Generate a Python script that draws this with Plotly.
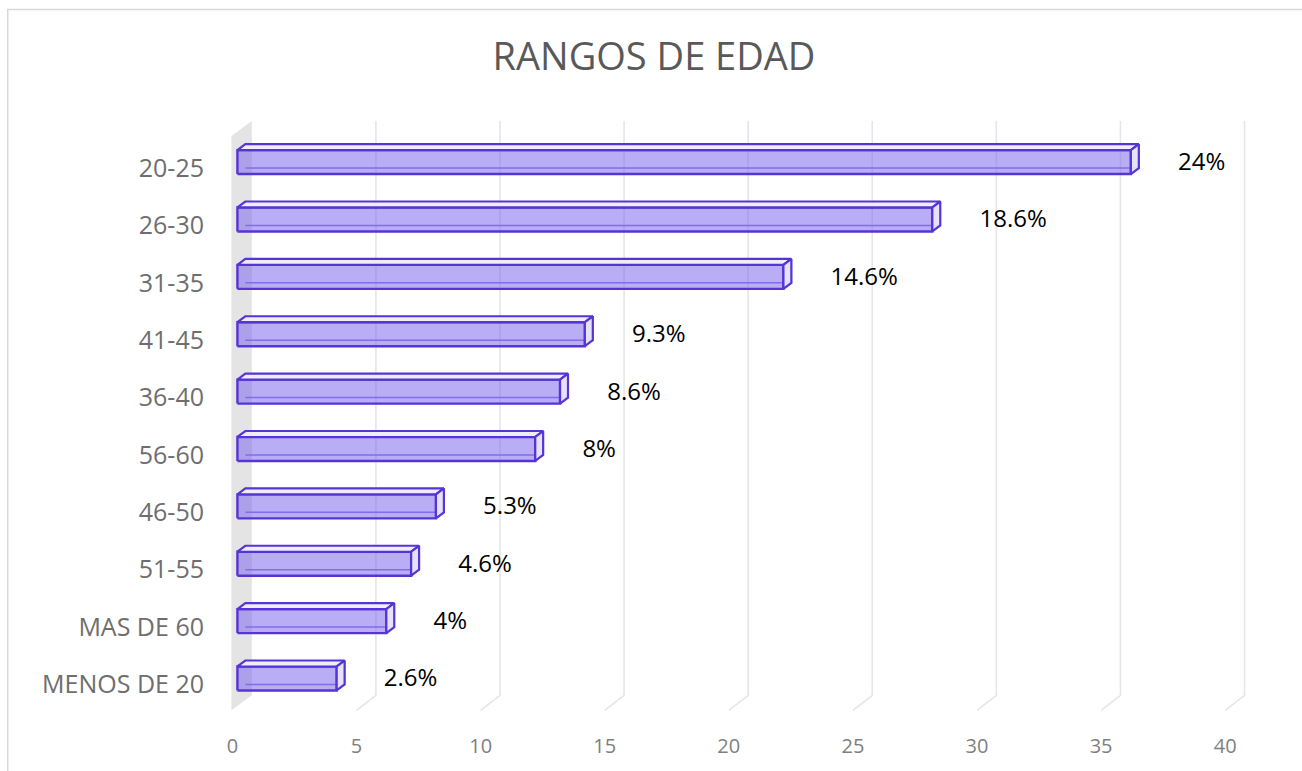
import plotly.graph_objects as go

# ---- data ----
categories = ["20-25", "26-30", "31-35", "41-45", "36-40", "56-60",
              "46-50", "51-55", "MAS DE 60", "MENOS DE 20"]
counts = [36, 28, 22, 14, 13, 12, 8, 7, 6, 4]
labels = ["24%", "18.6%", "14.6%", "9.3%", "8.6%", "8%", "5.3%", "4.6%", "4%", "2.6%"]
x_ticks = [0, 5, 10, 15, 20, 25, 30, 35, 40]

# ---- geometry (data units) ----
W, H = 1302, 771
L_M, R_M, T_M, B_M = 224.5, 51.5, 120.8, 53.2
XR = [-0.3, 41.0]
YR = [-0.55, 9.82]
X0 = 0.2           # bar start offset
F_LO, F_HI = -0.105, 0.313   # front face extent around category position
DX, DY = 0.32, 0.104         # bar depth offset
BX, BY = 0.78, 0.26          # back wall offset
FLOOR = -0.45

n = len(categories)
ypos = [n - 1 - i for i in range(n)]

fig = go.Figure()

# back wall (left side)
fig.add_trace(go.Scatter(
    x=[-0.04, BX, BX, -0.04, -0.04],
    y=[FLOOR, FLOOR + BY, YR[1], YR[1] - BY, FLOOR],
    mode="lines", fill="toself", fillcolor="#e4e4e4",
    line=dict(color="#e4e4e4", width=0), hoverinfo="skip", showlegend=False))

# gridlines on back plane + floor diagonals
gx, gy = [], []
for k in x_ticks[1:]:
    gx += [k, k + BX, k + BX, None]
    gy += [FLOOR, FLOOR + BY, YR[1], None]
fig.add_trace(go.Scatter(x=gx, y=gy, mode="lines",
                         line=dict(color="#e6e6e6", width=1.6),
                         hoverinfo="skip", showlegend=False))

# bars
OUT = "#5634d6"
bx_back, by_back = [], []
fx, fy = [], []
tx, ty = [], []
ex, ey = [], []
for v, c in zip(counts, ypos):
    x0, x1 = X0, v + X0
    yb, yt = c + F_LO, c + F_HI
    bx_back += [x0 + DX, x1 + DX, x1 + DX, None]
    by_back += [yb + DY, yb + DY, yt + DY, None]
    fx += [x0, x1, x1, x0, x0, None]
    fy += [yb, yb, yt, yt, yb, None]
    tx += [x0, x1, x1 + DX, x0 + DX, x0, None]
    ty += [yt, yt, yt + DY, yt + DY, yt, None]
    ex += [x1, x1 + DX, x1 + DX, x1, x1, None]
    ey += [yb, yb + DY, yt + DY, yt, yb, None]

fig.add_trace(go.Scatter(x=bx_back, y=by_back, mode="lines",
                         line=dict(color="#8a78e6", width=1.5),
                         hoverinfo="skip", showlegend=False))
fig.add_trace(go.Scatter(x=fx, y=fy, mode="lines", fill="toself",
                         fillcolor="rgba(120,98,238,0.52)",
                         line=dict(color=OUT, width=2.4),
                         hoverinfo="skip", showlegend=False))
fig.add_trace(go.Scatter(x=tx, y=ty, mode="lines", fill="toself",
                         fillcolor="rgba(238,236,252,0.95)",
                         line=dict(color=OUT, width=2.2),
                         hoverinfo="skip", showlegend=False))
fig.add_trace(go.Scatter(x=ex, y=ey, mode="lines", fill="toself",
                         fillcolor="rgba(228,225,250,0.95)",
                         line=dict(color=OUT, width=2.2),
                         hoverinfo="skip", showlegend=False))

# data labels
fig.add_trace(go.Scatter(
    x=[v + 2.1 for v in counts], y=[c + 0.07 for c in ypos],
    mode="text", text=labels, textposition="middle right",
    textfont=dict(family="Open Sans", size=24, color="#000000"),
    hoverinfo="skip", showlegend=False))

# outer chart border
pw = W - L_M - R_M
ph = H - T_M - B_M
def px2x(p): return (p - L_M) / pw
def py2y(p): return (H - B_M - p) / ph
fig.add_shape(type="rect", xref="paper", yref="paper",
              x0=px2x(7), x1=px2x(1320), y0=py2y(9), y1=py2y(800),
              line=dict(color="#d9d9d9", width=1.5), layer="below")

fig.update_layout(
    width=W, height=H,
    margin=dict(l=L_M, r=R_M, t=T_M, b=B_M),
    paper_bgcolor="white", plot_bgcolor="white",
    title=dict(text="RANGOS DE EDAD", x=654 / W, xanchor="center",
               y=1 - 57 / H, yanchor="middle", yref="container",
               font=dict(family="Open Sans", size=38, color="#595959")),
    xaxis=dict(range=XR, tickvals=x_ticks, ticktext=[str(t) for t in x_ticks],
               showgrid=False, zeroline=False, showline=False, ticks="",
               ticklabelstandoff=16, fixedrange=True,
               tickfont=dict(family="Open Sans", size=20, color="#7f7f7f")),
    yaxis=dict(range=YR, tickvals=ypos, ticktext=categories,
               showgrid=False, zeroline=False, showline=False, ticks="",
               ticklabelstandoff=20, fixedrange=True,
               tickfont=dict(family="Open Sans", size=25, color="#6e6e6e")),
    showlegend=False,
)

fig.write_html("out.html", config={"displayModeBar": False},
               post_script="document.body.style.margin='0';document.body.style.overflow='hidden';")
